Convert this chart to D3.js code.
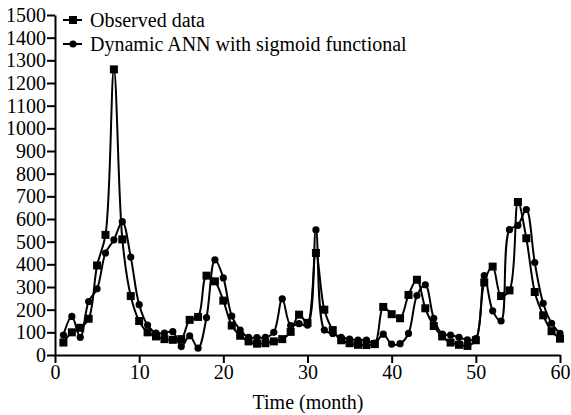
<!doctype html>
<html>
<head>
    <style>
        body { margin: 0; background: #fff; }
        svg text { font-family: "Liberation Serif", "Times New Roman", Times, serif !important; fill: #000; }
        .axis path, .axis line { stroke: #000; stroke-width: 2px; }
        .series { fill: none; stroke: #000; stroke-width: 2px; }
    </style>
    <script src="https://d3js.org/d3.v7.min.js"></script>
</head>
<body>
    <svg width="571" height="415"></svg>
    <script>
        // month index, observed data and ANN output
        var months = [1, 2, 3, 4, 5, 6, 7, 8, 9, 10, 11, 12, 13, 14, 15, 16, 17, 18, 19, 20,
                      21, 22, 23, 24, 25, 26, 27, 28, 29, 30, 31, 32, 33, 34, 35, 36, 37, 38, 39, 40,
                      41, 42, 43, 44, 45, 46, 47, 48, 49, 50, 51, 52, 53, 54, 55, 56, 57, 58, 59, 60];
        var observed = [55, 100, 120, 160, 395, 530, 1260, 510, 260, 150, 100, 82, 70, 67, 70, 155, 168, 350, 325, 240,
                        130, 85, 60, 50, 52, 60, 70, 102, 178, 142, 450, 200, 110, 65, 52, 45, 44, 48, 212, 180,
                        162, 265, 332, 206, 128, 82, 55, 45, 40, 65, 320, 390, 260, 285, 675, 515, 278, 175, 105, 72];
        var annOutput = [88, 170, 78, 236, 292, 450, 508, 588, 432, 222, 132, 97, 97, 103, 37, 85, 30, 165, 420, 340,
                         172, 110, 78, 77, 78, 100, 248, 130, 138, 132, 552, 110, 95, 78, 70, 66, 66, 52, 92, 48,
                         50, 95, 262, 310, 162, 92, 88, 78, 67, 72, 350, 195, 150, 553, 572, 642, 408, 228, 140, 95];
        var xTicks = [0, 10, 20, 30, 40, 50, 60];
        var yTicks = [0, 100, 200, 300, 400, 500, 600, 700, 800, 900, 1000, 1100, 1200, 1300, 1400, 1500];
        var seriesNames = ["Observed data", "Dynamic ANN with sigmoid functional"];

        var svg = d3.select("svg");

        var x = d3.scaleLinear().domain([0, 60]).range([55, 560]);
        var y = d3.scaleLinear().domain([0, 1500]).range([355, 15]);

        svg.append("g")
           .attr("class", "axis")
           .attr("transform", "translate(0,355)")
           .call(d3.axisBottom(x).tickValues(xTicks).tickFormat(d3.format("d"))
                 .tickSize(8).tickSizeOuter(0).tickPadding(2));

        svg.append("g")
           .attr("class", "axis")
           .attr("transform", "translate(55,0)")
           .call(d3.axisLeft(y).tickValues(yTicks).tickFormat(d3.format("d"))
                 .tickSize(8).tickSizeOuter(0).tickPadding(1));

        svg.selectAll(".axis")
           .attr("font-size", 20);

        svg.append("text")
           .attr("x", 308)
           .attr("y", 409)
           .attr("text-anchor", "middle")
           .attr("font-size", "20px")
           .text("Time (month)");

        var line = d3.line()
            .x(function(d) { return x(d.t); })
            .y(function(d) { return y(d.v); })
            .curve(d3.curveCatmullRom.alpha(0.5));

        var obsData = months.map(function(m, i) { return { t: m, v: observed[i] }; });
        var annData = months.map(function(m, i) { return { t: m, v: annOutput[i] }; });

        svg.append("path").attr("class", "series").attr("d", line(annData));
        svg.append("path").attr("class", "series").attr("d", line(obsData));

        svg.selectAll(".ann")
           .data(annData)
           .enter().append("circle")
           .attr("class", "ann")
           .attr("cx", function(d) { return x(d.t); })
           .attr("cy", function(d) { return y(d.v); })
           .attr("r", 3.6)
           .attr("fill", "#000");

        svg.selectAll(".obs")
           .data(obsData)
           .enter().append("rect")
           .attr("class", "obs")
           .attr("x", function(d) { return x(d.t) - 4; })
           .attr("y", function(d) { return y(d.v) - 4; })
           .attr("width", 8)
           .attr("height", 8)
           .attr("fill", "#000");

        // legend
        var legend = svg.append("g").attr("transform", "translate(63,20)");
        seriesNames.forEach(function(name, i) {
            var row = legend.append("g").attr("transform", "translate(0," + (i * 24) + ")");
            row.append("line")
               .attr("x1", 0).attr("x2", 19)
               .attr("stroke", "#000").attr("stroke-width", 2);
            if (i === 0) {
                row.append("rect").attr("x", 6).attr("y", -4).attr("width", 8).attr("height", 8).attr("fill", "#000");
            } else {
                row.append("circle").attr("cx", 10).attr("r", 3.6).attr("fill", "#000");
            }
            row.append("text")
               .attr("x", 27)
               .attr("y", 7)
               .attr("font-size", "20px")
               .text(name);
        });
    </script>
</body>
</html>
